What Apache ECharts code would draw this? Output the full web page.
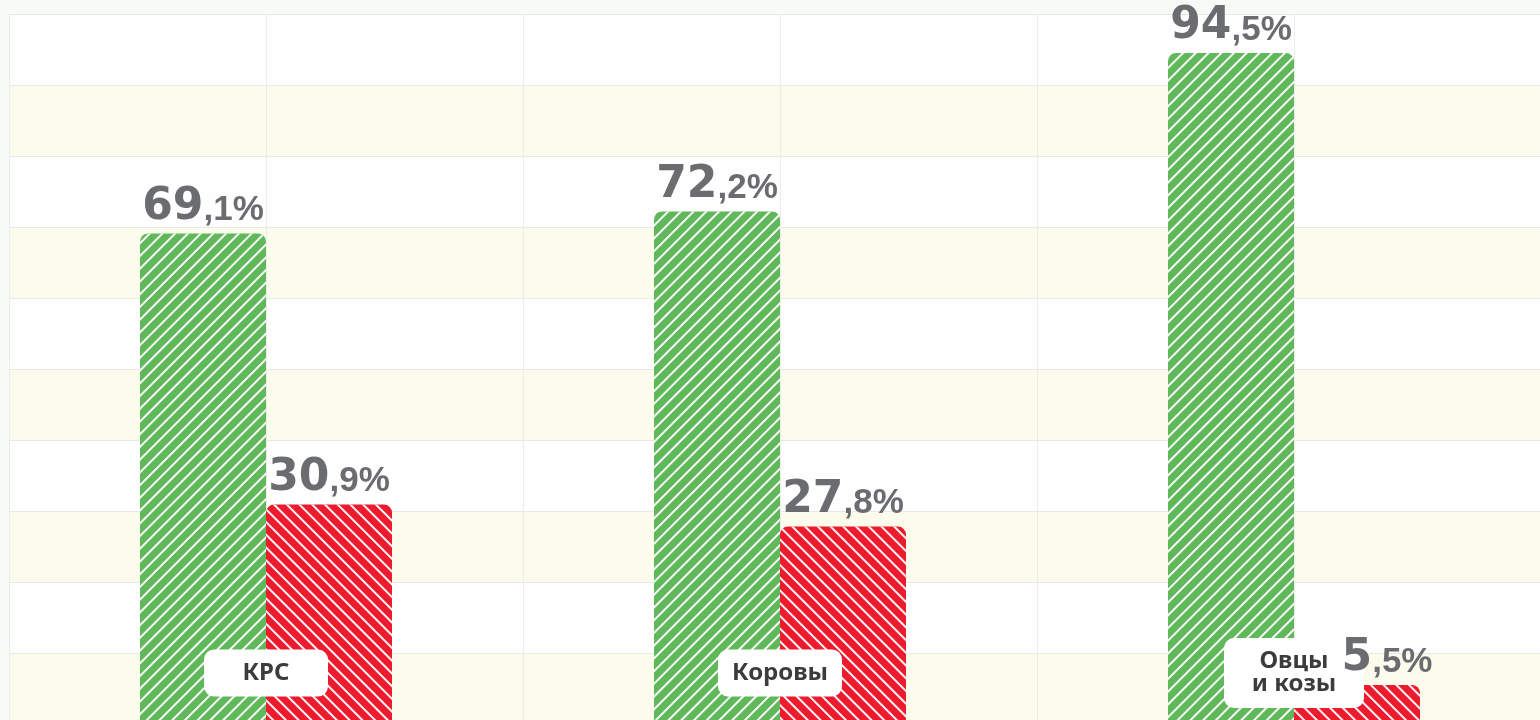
<!DOCTYPE html>
<html>
<head>
<meta charset="utf-8">
<script src="https://cdn.jsdelivr.net/npm/echarts@6/dist/echarts.min.js"></script>
<style>
  html, body { margin: 0; padding: 0; }
  #chart { width: 1540px; height: 720px; }
</style>
</head>
<body>
<div id="chart"></div>
<script>
const categories = ['КРС', 'Коровы', 'Овцы\nи козы']
const greenValues = [69.1, 72.2, 94.5]
const redValues = [30.9, 27.8, 5.5]
const yTicks = [0, 10, 20, 30, 40, 50, 60, 70, 80, 90, 100]

const chart = echarts.init(document.getElementById('chart'))

// подпись вида "69,1%": целая часть крупно, дробная мельче
const valueLabel = (p) => {
  const parts = p.value.toFixed(1).split('.')
  return '{big|' + parts[0] + '}{small|,' + parts[1] + '%}'
}

const labelRich = {
  big: {
    fontFamily: 'DejaVu Sans',
    fontWeight: 'bold',
    fontSize: 44,
    color: '#6b6c70'
  },
  small: {
    fontFamily: 'Liberation Sans',
    fontWeight: 'bold',
    fontSize: 35,
    color: '#6b6c70',
    padding: [6, 0, 0, 0]
  }
}

const makeDecal = (rotation) => ({
  symbol: 'rect',
  symbolSize: 1,
  color: 'rgba(255,255,255,0.95)',
  dashArrayX: [1, 0],
  dashArrayY: [2, 7],
  rotation: rotation
})

const gridBox = { left: 9, top: 14, width: 1542, height: 710, outerBoundsMode: 'none' }
const yRange = { min: yTicks[0], max: yTicks[yTicks.length - 1], interval: 10 }

// второй (прозрачный) слой только для подписей значений — чтобы они были поверх плашек категорий
const labelLayer = (values, offsets) => ({
  type: 'bar',
  xAxisIndex: 2,
  yAxisIndex: 1,
  z: 20,
  barWidth: 126,
  barGap: '0%',
  itemStyle: { color: 'rgba(0,0,0,0)' },
  label: {
    show: true,
    position: 'top',
    distance: 4,
    formatter: valueLabel,
    rich: labelRich
  },
  data: values.map((v, i) => offsets[i] ? { value: v, label: { offset: offsets[i] } } : v)
})

const barLayer = (values, color, rotation) => ({
  type: 'bar',
  xAxisIndex: 0,
  yAxisIndex: 0,
  barWidth: 126,
  barGap: '0%',
  itemStyle: {
    color: color,
    borderRadius: [8, 8, 0, 0],
    decal: makeDecal(rotation)
  },
  data: values
})

const option = {
  backgroundColor: '#f7faf6',
  animation: false,
  grid: [gridBox, gridBox],
  xAxis: [
    {
      type: 'category',
      gridIndex: 0,
      data: categories.map((c, i) => i === 2
        ? { value: c, textStyle: { width: 116, verticalAlign: 'middle', align: 'center' } }
        : c),
      z: 10,
      axisLine: { show: false },
      axisTick: { show: false },
      splitLine: { show: true, lineStyle: { color: '#ececec' } },
      axisLabel: {
        margin: -51,
        verticalAlign: 'middle',
        align: 'center',
        fontFamily: 'Noto Sans',
        fontWeight: 'bold',
        fontSize: 24,
        lineHeight: 23,
        color: '#3c3c3e',
        backgroundColor: '#ffffff',
        borderRadius: 10,
        width: 100,
        padding: [12, 12]
      }
    },
    {
      type: 'value',
      gridIndex: 0,
      position: 'top',
      min: 0,
      max: 6,
      interval: 1,
      axisLine: { show: false },
      axisTick: { show: false },
      axisLabel: { show: false },
      splitLine: {
        show: true,
        showMinLine: false,
        showMaxLine: false,
        lineStyle: { color: '#ececec' }
      }
    },
    {
      type: 'category',
      gridIndex: 1,
      show: false,
      data: categories
    }
  ],
  yAxis: [
    {
      type: 'value',
      gridIndex: 0,
      ...yRange,
      axisLine: { show: false },
      axisTick: { show: false },
      axisLabel: { show: false },
      splitLine: { show: true, lineStyle: { color: '#e9e9e4' } },
      splitArea: { show: true, areaStyle: { color: ['#fcfcec', '#fdfefd'] } }
    },
    {
      type: 'value',
      gridIndex: 1,
      show: false,
      ...yRange
    }
  ],
  series: [
    barLayer(greenValues, '#61b85a', -Math.PI / 4),
    barLayer(redValues, '#ec1b2e', Math.PI / 4),
    labelLayer(greenValues, []),
    labelLayer(redValues, [null, null, [30, 0]])
  ]
}

chart.setOption(option)
</script>
</body>
</html>
